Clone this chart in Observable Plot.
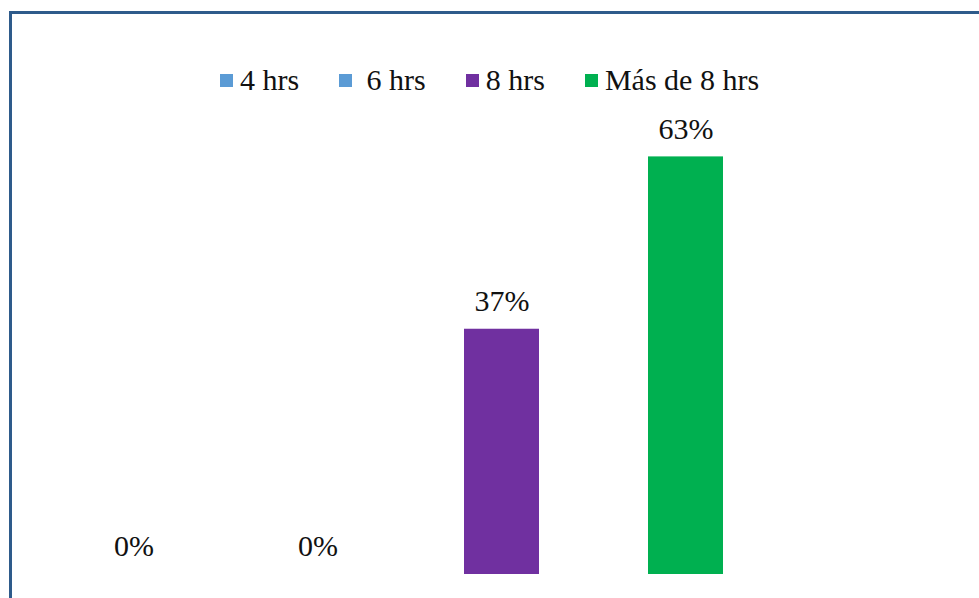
<!DOCTYPE html>
<html>
<head>
<meta charset="utf-8">
<script src="https://cdn.jsdelivr.net/npm/d3@7"></script>
<script src="https://cdn.jsdelivr.net/npm/@observablehq/plot@0.6"></script>
<style>
  html, body { margin: 0; padding: 0; background: #fff; }
  #wrap { position: relative; width: 979px; height: 598px; overflow: hidden; font-family: "Liberation Serif", "Times New Roman", serif; }
  #frame { position: absolute; left: 9px; top: 11px; width: 1000px; height: 640px; border: 3px solid #2e5b8b; box-sizing: border-box; }
  #legend { position: absolute; left: 0; top: 63px; width: 979px; display: flex; justify-content: center; gap: 40px; font-size: 30px; line-height: 34px; color: #111; }
  .item { display: flex; align-items: center; white-space: pre; }
  .sw { width: 13px; height: 13px; margin-right: 7px; }
  #chart { position: absolute; left: 0; top: 0; }
</style>
</head>
<body>
<div id="wrap">
  <div id="frame"></div>
  <div id="chart"></div>
  <div id="legend"></div>
</div>
<script>
const categories = ["4 hrs", "6 hrs", "8 hrs", "Más de 8 hrs"];
const legendLabels = ["4 hrs", " 6 hrs", "8 hrs", "Más de 8 hrs"];
const values = [0, 0, 37, 63];
const colors = ["#5b9bd5", "#5b9bd5", "#7030a0", "#00b050"];

const data = categories.map((c, i) => ({category: c, value: values[i], label: values[i] + "%"}));

const plot = Plot.plot({
  width: 979,
  height: 598,
  marginLeft: 40,
  marginRight: 200,
  marginTop: 110,
  marginBottom: 24,
  x: {domain: categories, paddingInner: 0.59, paddingOuter: 0.295, axis: null},
  y: {domain: [0, 70], axis: null},
  color: {domain: categories, range: colors},
  style: {background: "transparent"},
  marks: [
    Plot.barY(data, {x: "category", y: "value", fill: "category"}),
    Plot.text(data, {x: "category", y: "value", text: "label", dy: -28, fontSize: 30, fontFamily: "Liberation Serif", fill: "#111"})
  ]
});
document.getElementById("chart").appendChild(plot);

const legend = document.getElementById("legend");
legendLabels.forEach((l, i) => {
  const item = document.createElement("div");
  item.className = "item";
  const sw = document.createElement("div");
  sw.className = "sw";
  sw.style.background = colors[i];
  item.appendChild(sw);
  const t = document.createElement("span");
  t.textContent = l;
  item.appendChild(t);
  legend.appendChild(item);
});
</script>
</body>
</html>
